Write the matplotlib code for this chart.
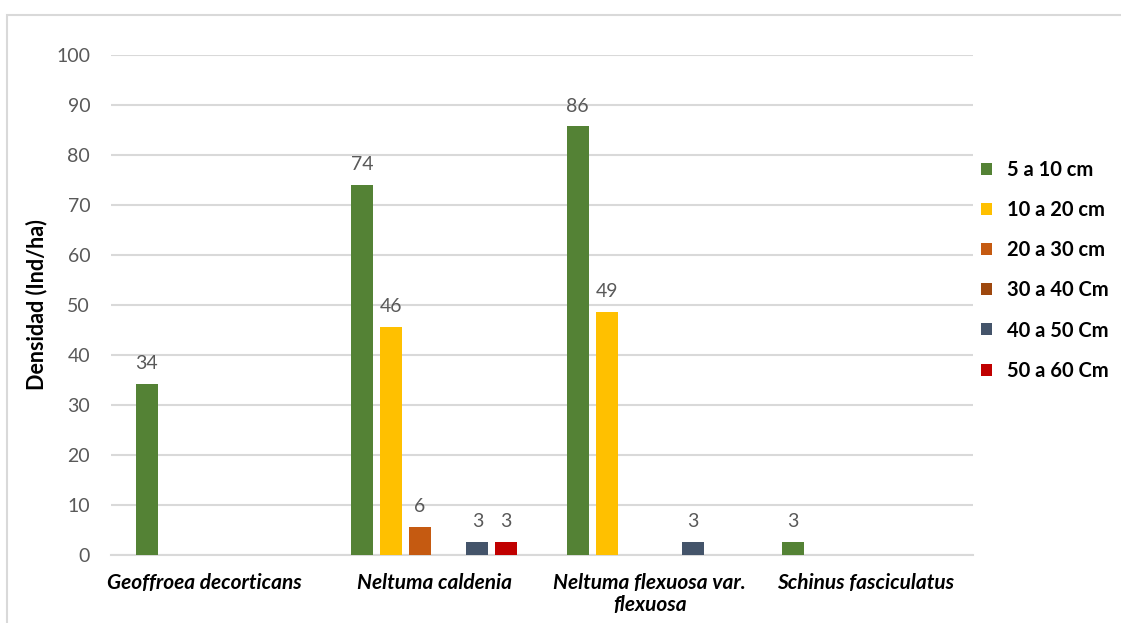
import matplotlib
matplotlib.use("Agg")
import matplotlib.pyplot as plt
import matplotlib.transforms as mtransforms
from matplotlib.patches import Patch, Rectangle
import numpy as np

categories = ["Geoffroea decorticans", "Neltuma caldenia",
              "Neltuma flexuosa var.\nflexuosa", "Schinus fasciculatus"]
series_names = ["5 a 10 cm", "10 a 20 cm", "20 a 30 cm", "30 a 40 Cm", "40 a 50 Cm", "50 a 60 Cm"]
series_colors = ["#548235", "#FFC000", "#C55A11", "#9E480E", "#44546A", "#C00000"]
# values per series (None = no bar)
s_5_10 = [34.3, 74.1, 85.8, 2.7]
s_10_20 = [None, 45.7, 48.7, None]
s_20_30 = [None, 5.7, None, None]
s_30_40 = [None, None, None, None]
s_40_50 = [None, 2.7, 2.7, None]
s_50_60 = [None, 2.7, None, None]
series_values = [s_5_10, s_10_20, s_20_30, s_30_40, s_40_50, s_50_60]
yticks = [0, 10, 20, 30, 40, 50, 60, 70, 80, 90, 100]

FONT = "Lato"
plt.rcParams["font.family"] = [FONT, "DejaVu Sans"]

fig = plt.figure(figsize=(11.21, 6.23), dpi=100)
ax = fig.add_axes([111/1121, 1-555/623, (973-111)/1121, 500/623])

x = np.arange(len(categories))
step = 0.1336
width = 0.102
n = len(series_values)
for i, (vals, col) in enumerate(zip(series_values, series_colors)):
    off = (i - (n-1)/2) * step
    xs = [x[j] + off for j, v in enumerate(vals) if v is not None]
    hs = [v for v in vals if v is not None]
    if not xs:
        continue
    ax.bar(xs, hs, width=width, color=col, zorder=3)
    for xx, hh in zip(xs, hs):
        ax.annotate(f"{hh:.0f}", (xx, hh), xytext=(0, 8), textcoords="offset points",
                    ha="center", va="bottom", fontsize=14, color="#595959")

ax.set_xlim(-0.5, len(categories)-0.5)
ax.set_ylim(0, 100)
ax.set_yticks(yticks)
ax.yaxis.grid(True, color="#D9D9D9", linewidth=1.5, zorder=0)
ax.set_axisbelow(True)
for sp in ["left", "right", "top"]:
    ax.spines[sp].set_visible(False)
ax.spines["bottom"].set_color("#D9D9D9")
ax.spines["bottom"].set_linewidth(1.5)
ax.tick_params(axis="y", length=0, pad=15, labelsize=14, labelcolor="#595959")
ax.tick_params(axis="x", length=0, pad=13)
ax.set_xticks(x)
ax.set_xticklabels(categories, fontsize=15, fontweight="bold", style="italic", color="black",
                   linespacing=1.15)
# first label sits slightly left in the original
lbl0 = ax.get_xticklabels()[0]
lbl0.set_transform(lbl0.get_transform() + mtransforms.ScaledTranslation(-14/100, 0, fig.dpi_scale_trans))
ax.set_ylabel("Densidad (Ind/ha)", fontsize=15.5, fontweight="bold", color="black", labelpad=6)

handles = [Patch(facecolor=c) for c in series_colors]
fig.legend(handles, series_names, loc="upper left", bbox_to_anchor=(981/1121, 1-160/623),
           frameon=False, handlelength=0.55, handleheight=0.55, handletextpad=0.75,
           labelspacing=1.0, borderpad=0, borderaxespad=0,
           prop={"family": FONT, "weight": "bold", "size": 14.5})

fig.patches.append(Rectangle((7/1121, -0.2), 1.2, 1.2 - 15/623, transform=fig.transFigure,
                             fill=False, edgecolor="#D9D9D9", linewidth=1.5))

fig.savefig("out.png", dpi=100)
